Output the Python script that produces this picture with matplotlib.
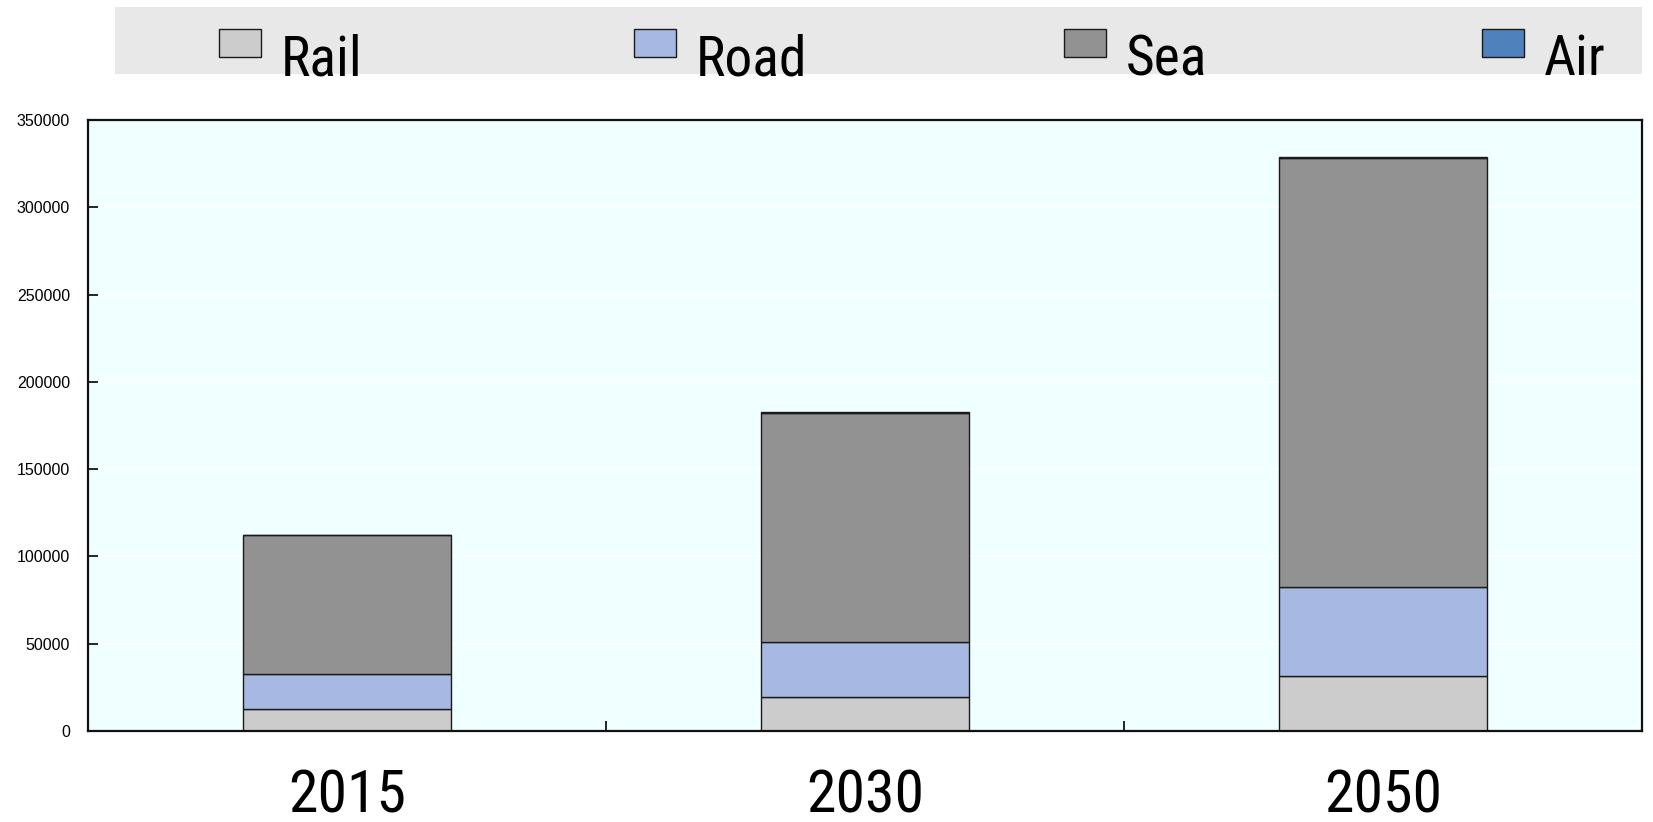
import matplotlib
matplotlib.use("Agg")
import matplotlib.pyplot as plt
import numpy as np
from matplotlib.patches import Rectangle
from matplotlib import font_manager as fm

# Data
years = ["2015", "2030", "2050"]
modes = ["Rail", "Road", "Sea", "Air"]
rail = [12500, 19500, 31300]
road = [19900, 31500, 51100]
sea = [79800, 131300, 245600]
air = [300, 400, 1000]
colors = ["#CCCCCC", "#A7B9E3", "#929292", "#4F81BD"]
yticks = [0, 50000, 100000, 150000, 200000, 250000, 300000, 350000]

# pick a narrow sans for the big labels, whatever is installed
installed = {f.name for f in fm.fontManager.ttflist}
narrow = [f for f in ["Arial Narrow", "Liberation Sans Narrow", "Arimo Narrow",
                      "Roboto Condensed", "Archivo Narrow", "PT Sans Narrow",
                      "Open Sans Condensed"] if f in installed]
narrow = narrow[:1] + ["Liberation Sans", "DejaVu Sans"]
regular = ["Liberation Sans", "DejaVu Sans"]

fig = plt.figure(figsize=(16.53, 8.22), dpi=100)
ax = fig.add_axes([88 / 1653, 1 - 731 / 822, (1642 - 88) / 1653, (731 - 120) / 822])
ax.set_facecolor("#F0FFFF")

x = np.arange(len(years))
bottom = np.zeros(len(years))
for name, vals, c in zip(modes, [rail, road, sea, air], colors):
    ax.bar(x, vals, 0.4, bottom=bottom, color=c, edgecolor="#1a1a1a",
           linewidth=1.0, zorder=3, label=name)
    bottom += np.array(vals)

ax.set_xlim(-0.5, len(years) - 0.5)
ax.set_ylim(0, 350000)
ax.set_yticks(yticks)
ax.set_yticklabels([str(v) for v in yticks], family=regular, fontsize=11.5)
ax.yaxis.grid(True, color="white", linewidth=1.2, zorder=1)
ax.set_axisbelow(True)
ax.tick_params(axis="y", direction="in", length=7, width=1.2, pad=13)

ax.set_xticks(x)
ax.set_xticklabels(years, family=narrow, fontsize=43)
ax.set_xticks([0.5, 1.5], minor=True)
ax.tick_params(axis="x", which="major", length=0, pad=26)
ax.tick_params(axis="x", which="minor", direction="in", length=7, width=1.2)

for s in ax.spines.values():
    s.set_linewidth(1.6)
    s.set_color("#111111")
    s.set_zorder(5)

# legend band across the top
W, H = 1653, 822
fig.patches.append(Rectangle((115 / W, 1 - 74 / H), (1642 - 115) / W, 67 / H,
                             transform=fig.transFigure, facecolor="#E8E8E8",
                             edgecolor="none", zorder=0))
patch_x = [219, 634, 1064, 1482]
for px, name, c in zip(patch_x, modes, colors):
    fig.patches.append(Rectangle((px / W, 1 - 57 / H), 42 / W, 28 / H,
                                 transform=fig.transFigure, facecolor=c,
                                 edgecolor="#1a1a1a", linewidth=1.0, zorder=2))
    fig.text((px + 62) / W, 1 - 75 / H, name, family=narrow, fontsize=40,
             va="baseline", ha="left", zorder=3)

fig.savefig("out.png", dpi=100)
